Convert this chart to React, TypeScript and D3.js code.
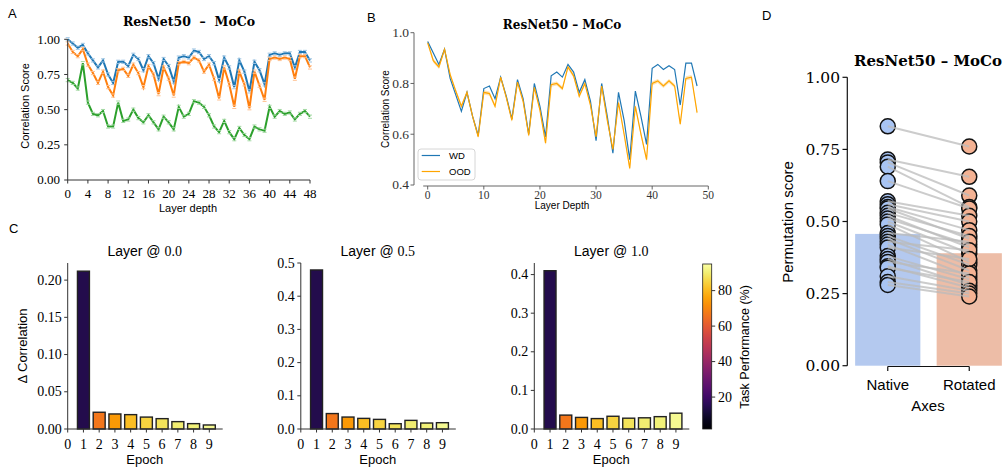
import React from 'react';
import * as d3 from 'd3';

// ---- data ----
const layers = d3.range(49);

const blueA = [1.0, 0.97, 0.94, 0.96, 0.9, 0.85, 0.8, 0.85, 0.75, 0.69, 0.84, 0.84, 0.81, 0.89, 0.86, 0.78, 0.88,
  0.83, 0.72, 0.86, 0.81, 0.7, 0.87, 0.88, 0.87, 0.92, 0.91, 0.86, 0.88, 0.83, 0.71, 0.87, 0.8, 0.66, 0.85, 0.77,
  0.63, 0.84, 0.78, 0.68, 0.89, 0.9, 0.89, 0.9, 0.9, 0.8, 0.91, 0.91, 0.85];
const orangeA = [0.97, 0.91, 0.88, 0.93, 0.82, 0.76, 0.69, 0.77, 0.66, 0.6, 0.78, 0.79, 0.74, 0.82, 0.76, 0.66, 0.81,
  0.75, 0.61, 0.8, 0.72, 0.6, 0.83, 0.84, 0.83, 0.87, 0.85, 0.77, 0.82, 0.72, 0.58, 0.8, 0.68, 0.52, 0.77, 0.68,
  0.51, 0.77, 0.67, 0.57, 0.86, 0.87, 0.86, 0.87, 0.86, 0.72, 0.88, 0.88, 0.8];
const greenA = [0.71, 0.69, 0.65, 0.83, 0.55, 0.47, 0.46, 0.49, 0.38, 0.38, 0.55, 0.42, 0.43, 0.5, 0.44, 0.41, 0.46,
  0.41, 0.36, 0.45, 0.41, 0.36, 0.52, 0.45, 0.47, 0.56, 0.55, 0.52, 0.46, 0.38, 0.34, 0.42, 0.34, 0.29, 0.37, 0.32,
  0.29, 0.38, 0.36, 0.35, 0.52, 0.45, 0.49, 0.47, 0.48, 0.43, 0.47, 0.49, 0.45];

const wdB = [0.965, 0.92, 0.875, 0.935, 0.82, 0.755, 0.69, 0.765, 0.67, 0.595, 0.78, 0.79, 0.74, 0.825, 0.75, 0.66,
  0.815, 0.74, 0.6, 0.8, 0.71, 0.59, 0.83, 0.845, 0.825, 0.875, 0.845, 0.765, 0.815, 0.73, 0.575, 0.8, 0.67, 0.525,
  0.765, 0.655, 0.5, 0.77, 0.67, 0.56, 0.86, 0.875, 0.855, 0.87, 0.855, 0.715, 0.88, 0.88, 0.79];
const oodB = [0.96, 0.89, 0.865, 0.935, 0.835, 0.77, 0.71, 0.765, 0.67, 0.59, 0.765, 0.76, 0.71, 0.825, 0.745, 0.655,
  0.805, 0.73, 0.595, 0.785, 0.695, 0.565, 0.795, 0.8, 0.78, 0.865, 0.83, 0.75, 0.8, 0.715, 0.59, 0.79, 0.655, 0.54,
  0.725, 0.6, 0.465, 0.71, 0.6, 0.5, 0.8, 0.81, 0.79, 0.81, 0.79, 0.64, 0.82, 0.825, 0.685];
const oodBand = 0.008;

const epochs = [1, 2, 3, 4, 5, 6, 7, 8, 9];
const epochTicks = [0, 1, 2, 3, 4, 5, 6, 7, 8, 9];
const deltaLayer00 = [0.212, 0.0225, 0.0202, 0.0193, 0.016, 0.0139, 0.0099, 0.0072, 0.0054];
const deltaLayer05 = [0.479, 0.0465, 0.036, 0.032, 0.029, 0.016, 0.026, 0.018, 0.019];
const deltaLayer10 = [0.41, 0.036, 0.03, 0.027, 0.033, 0.028, 0.029, 0.032, 0.041];
const taskPerf = [14, 67, 74, 81, 85, 88, 90, 91, 93];
const perfTicks = [20, 40, 60, 80];

const axesCats = ['Native', 'Rotated'];
const barMeans = [0.457, 0.39];
const nativeScores = [0.83, 0.715, 0.705, 0.69, 0.64, 0.57, 0.56, 0.55, 0.545, 0.53, 0.52, 0.51, 0.5, 0.49, 0.46,
  0.45, 0.44, 0.43, 0.42, 0.41, 0.38, 0.37, 0.36, 0.345, 0.34, 0.31, 0.29, 0.28];
const rotatedScores = [0.76, 0.655, 0.59, 0.55, 0.545, 0.52, 0.5, 0.47, 0.44, 0.45, 0.41, 0.42, 0.39, 0.36, 0.43,
  0.35, 0.33, 0.4, 0.31, 0.37, 0.3, 0.28, 0.32, 0.27, 0.29, 0.26, 0.25, 0.24];

const SERIF = "'Liberation Serif', serif";
const SERIF_W = "'DejaVu Serif', serif";
const SANS = "'Liberation Sans', sans-serif";
const SPINE = '#333';

const perfColor = d3.scaleSequential(d3.interpolateInferno).domain([2, 95]);

// ---- panel A ----
const PanelA = () => {
  const x = d3.scaleLinear().domain([0, 48]).range([67.7, 310]);
  const y = d3.scaleLinear().domain([0, 1]).range([180, 39.3]);
  const line = d3.line<number>().x((d, i) => x(i)).y(d => y(d));
  const series = [
    { vals: blueA, color: '#1f77b4', cap: '#9cc3e2' },
    { vals: orangeA, color: '#ff7f0e', cap: '#ffc08f' },
    { vals: greenA, color: '#2ca02c', cap: '#a3d9a3' },
  ];
  return (
    <g>
      <text x={8} y={18} fontFamily={SANS} fontSize={13}>A</text>
      <text x={189} y={26} textAnchor="middle" fontFamily={SERIF_W} fontWeight="bold" fontSize={12.5}
        style={{ whiteSpace: 'pre' }}>{'ResNet50  –  MoCo'}</text>
      {series.map((s, k) => (
        <g key={k}>
          <path d={line(s.vals) || ''} fill="none" stroke={s.color} strokeWidth={2} />
          {s.vals.map((v, i) => (
            <path key={i} d={`M${x(i) - 2},${y(v) - 1.6}h4M${x(i) - 2},${y(v) + 1.6}h4`}
              stroke={s.cap} strokeWidth={1} fill="none" />
          ))}
        </g>
      ))}
      <line x1={x(0)} x2={x(0)} y1={y(0)} y2={y(1)} stroke={SPINE} />
      <line x1={x(0)} x2={x(48)} y1={y(0)} y2={y(0)} stroke={SPINE} />
      {d3.range(0, 49, 4).map(t => (
        <g key={t}>
          <line x1={x(t)} x2={x(t)} y1={y(0)} y2={y(0) + 3.5} stroke={SPINE} />
          <text x={x(t)} y={198} textAnchor="middle" fontFamily={SERIF} fontSize={13}>{t}</text>
        </g>
      ))}
      {[0, 0.25, 0.5, 0.75, 1].map(t => (
        <g key={t}>
          <line x1={x(0) - 3.5} x2={x(0)} y1={y(t)} y2={y(t)} stroke={SPINE} />
          <text x={60} y={y(t)} dy="0.33em" textAnchor="end" fontFamily={SERIF} fontSize={13}>{t.toFixed(2)}</text>
        </g>
      ))}
      <text x={188} y={212} textAnchor="middle" fontFamily={SANS} fontSize={11}>Layer depth</text>
      <text transform="translate(29,106) rotate(-90)" textAnchor="middle" fontFamily={SANS} fontSize={11}>Correlation Score</text>
    </g>
  );
};

// ---- panel B ----
const PanelB = () => {
  const x = d3.scaleLinear().domain([0, 50]).range([427.7, 708.3]);
  const y = d3.scaleLinear().domain([0.4, 1.0]).range([185, 32.7]);
  const line = d3.line<number>().x((d, i) => x(i)).y(d => y(d));
  const band = d3.area<number>().x((d, i) => x(i)).y0(d => y(d - oodBand)).y1(d => y(d + oodBand));
  return (
    <g>
      <text x={367} y={21.5} fontFamily={SANS} fontSize={13}>B</text>
      <text x={562} y={29} textAnchor="middle" fontFamily={SERIF_W} fontWeight="bold" fontSize={12}>ResNet50 – MoCo</text>
      <path d={band(oodB) || ''} fill="orange" opacity={0.3} />
      <path d={line(wdB) || ''} fill="none" stroke="#1f77b4" strokeWidth={1.2} />
      <path d={line(oodB) || ''} fill="none" stroke="orange" strokeWidth={1.2} />
      <line x1={414} x2={414} y1={y(0.4)} y2={y(1.0)} stroke="#555" strokeWidth={0.9} />
      <line x1={x(-0.8)} x2={x(50)} y1={186} y2={186} stroke="#555" strokeWidth={0.9} />
      {[0.4, 0.6, 0.8, 1.0].map(t => (
        <g key={t}>
          <line x1={410.5} x2={414} y1={y(t)} y2={y(t)} stroke="#555" strokeWidth={0.9} />
          <text x={409} y={y(t)} dy="0.33em" textAnchor="end" fontFamily={SERIF} fontSize={13.5} fill="#333">{t.toFixed(1)}</text>
        </g>
      ))}
      {[0, 10, 20, 30, 40, 50].map(t => (
        <g key={t}>
          <line x1={x(t)} x2={x(t)} y1={186} y2={189.5} stroke="#555" strokeWidth={0.9} />
          <text x={x(t)} y={199} textAnchor="middle" fontFamily={SERIF} fontSize={11.5} fill="#333">{t}</text>
        </g>
      ))}
      <text x={562} y={209} textAnchor="middle" fontFamily={SANS} fontSize={10}>Layer Depth</text>
      <text transform="translate(389,109) rotate(-90)" textAnchor="middle" fontFamily={SANS} fontSize={10}>Correlation Score</text>
      <rect x={418} y={149} width={57} height={31} rx={3} fill="white" fillOpacity={0.8} stroke="#ccc" strokeWidth={0.8} />
      <line x1={421.7} x2={440} y1={155.5} y2={155.5} stroke="#1f77b4" strokeWidth={1.2} />
      <text x={449} y={159} fontFamily={SANS} fontSize={9.5}>WD</text>
      <line x1={421.7} x2={440} y1={171.5} y2={171.5} stroke="orange" strokeWidth={1.2} />
      <text x={449} y={175} fontFamily={SANS} fontSize={9.5}>OOD</text>
    </g>
  );
};

// ---- panel C ----
const BarPanel = ({ x0, vals, yMax, yTicks, digits, level, yLabel }:
  { x0: number; vals: number[]; yMax: number; yTicks: number[]; digits: number; level: string; yLabel?: boolean }) => {
  const x = d3.scaleLinear().domain([0, 9.85]).range([x0, x0 + 155]);
  const y = d3.scaleLinear().domain([0, yMax]).range([429, 263]);
  const bw = x(0.76) - x(0);
  return (
    <g>
      <text x={x0 + 77} y={256} textAnchor="middle" fontSize={14}>
        <tspan fontFamily={SANS}>Layer @ </tspan><tspan fontFamily={SERIF}>{level}</tspan>
      </text>
      {vals.map((v, i) => (
        <rect key={i} x={x(epochs[i]) - bw / 2} y={y(v)} width={bw} height={y(0) - y(v)}
          fill={perfColor(taskPerf[i])} stroke="#222" strokeWidth={1.4} />
      ))}
      <line x1={x0} x2={x0} y1={y(0)} y2={y(yMax)} stroke={SPINE} />
      <line x1={x0} x2={x(9.85)} y1={y(0)} y2={y(0)} stroke={SPINE} />
      {yTicks.map(t => (
        <g key={t}>
          <line x1={x0 - 3.5} x2={x0} y1={y(t)} y2={y(t)} stroke={SPINE} />
          <text x={x0 - 6} y={y(t)} dy="0.33em" textAnchor="end" fontFamily={SERIF} fontSize={14}>{t.toFixed(digits)}</text>
        </g>
      ))}
      {epochTicks.map(t => (
        <g key={t}>
          <line x1={x(t)} x2={x(t)} y1={y(0)} y2={y(0) + 3.5} stroke={SPINE} />
          <text x={x(t)} y={449} textAnchor="middle" fontFamily={SERIF} fontSize={14}>{t}</text>
        </g>
      ))}
      <text x={x0 + 77} y={464} textAnchor="middle" fontFamily={SANS} fontSize={13}>Epoch</text>
      {yLabel && (
        <text transform={`translate(27,346) rotate(-90)`} textAnchor="middle" fontFamily={SANS} fontSize={13}>Δ Correlation</text>
      )}
    </g>
  );
};

const Colorbar = () => {
  const y = d3.scaleLinear().domain([2, 95]).range([429, 264]);
  const stops = d3.range(0, 1.0001, 0.05);
  return (
    <g>
      <defs>
        <linearGradient id="inferno" x1="0" y1="1" x2="0" y2="0">
          {stops.map(s => <stop key={s} offset={s} stopColor={d3.interpolateInferno(s)} />)}
        </linearGradient>
      </defs>
      <rect x={702.7} y={264} width={9} height={165} fill="url(#inferno)" stroke="#222" strokeWidth={0.8} />
      {perfTicks.map(t => (
        <g key={t}>
          <line x1={711.7} x2={715.2} y1={y(t)} y2={y(t)} stroke={SPINE} />
          <text x={718} y={y(t)} dy="0.33em" fontFamily={SERIF} fontSize={14}>{t}</text>
        </g>
      ))}
      <text transform="translate(749,347) rotate(-90)" textAnchor="middle" fontFamily={SANS} fontSize={12.5}>Task Performance (%)</text>
    </g>
  );
};

const PanelC = () => (
  <g>
    <text x={9} y={233} fontFamily={SANS} fontSize={13}>C</text>
    <BarPanel x0={67.7} vals={deltaLayer00} yMax={0.223} yTicks={[0, 0.05, 0.1, 0.15, 0.2]} digits={2} level="0.0" yLabel />
    <BarPanel x0={300.8} vals={deltaLayer05} yMax={0.5} yTicks={[0, 0.1, 0.2, 0.3, 0.4, 0.5]} digits={1} level="0.5" />
    <BarPanel x0={534.3} vals={deltaLayer10} yMax={0.43} yTicks={[0, 0.1, 0.2, 0.3, 0.4]} digits={1} level="1.0" />
    <Colorbar />
  </g>
);

// ---- panel D ----
const PanelD = () => {
  const x = d3.scalePoint<string>().domain(axesCats).range([847, 1010]).padding(0.5);
  const y = d3.scaleLinear().domain([0, 1]).range([365.7, 77.3]);
  const bw = x.step() * 0.8;
  const barFill = ['#b4c9ef', '#edbda7'];
  const dotFill = ['#a8c4f3', '#f4b293'];
  const xn = x('Native') as number;
  const xr = x('Rotated') as number;
  return (
    <g>
      <text x={762} y={20} fontFamily={SANS} fontSize={13}>D</text>
      <text x={928} y={66} textAnchor="middle" fontFamily={SERIF_W} fontWeight="bold" fontSize={15}>ResNet50 – MoCo</text>
      {axesCats.map((c, i) => (
        <rect key={c} x={(x(c) as number) - bw / 2} y={y(barMeans[i])} width={bw} height={y(0) - y(barMeans[i])} fill={barFill[i]} />
      ))}
      {nativeScores.map((v, i) => (
        <circle key={'n' + i} cx={xn} cy={y(v)} r={7.5} fill={dotFill[0]} stroke="#111" strokeWidth={1.5} />
      ))}
      {rotatedScores.map((v, i) => (
        <circle key={'r' + i} cx={xr} cy={y(v)} r={7.5} fill={dotFill[1]} stroke="#111" strokeWidth={1.5} />
      ))}
      {nativeScores.map((v, i) => (
        <line key={'l' + i} x1={xn} x2={xr} y1={y(v)} y2={y(rotatedScores[i])} stroke="#bbb" strokeOpacity={0.75} strokeWidth={2} />
      ))}
      <line x1={847.3} x2={847.3} y1={y(0)} y2={y(1)} stroke="#111" strokeWidth={1.2} />
      <line x1={xn} x2={xr} y1={366.5} y2={366.5} stroke="#111" strokeWidth={1.2} />
      {[0, 0.25, 0.5, 0.75, 1].map(t => (
        <g key={t}>
          <line x1={842.5} x2={847.3} y1={y(t)} y2={y(t)} stroke="#111" strokeWidth={1.2} />
          <text x={840} y={y(t)} dy="0.35em" textAnchor="end" fontFamily={SERIF_W} fontSize={15.5}>{t.toFixed(2)}</text>
        </g>
      ))}
      {axesCats.map(c => (
        <g key={c}>
          <line x1={x(c) as number} x2={x(c) as number} y1={366.5} y2={371} stroke="#111" strokeWidth={1.2} />
          <text x={x(c) as number} y={390} textAnchor="middle" fontFamily={SANS} fontSize={15}>{c}</text>
        </g>
      ))}
      <text x={928} y={411} textAnchor="middle" fontFamily={SANS} fontSize={15}>Axes</text>
      <text transform="translate(793,222) rotate(-90)" textAnchor="middle" fontFamily={SANS} fontSize={15}>Permutation score</text>
    </g>
  );
};

const App = () => (
  <svg width={1008} height={467} style={{ position: 'absolute', left: 0, top: 0, background: 'white' }}>
    <PanelA />
    <PanelB />
    <PanelC />
    <PanelD />
  </svg>
);

export default App;
